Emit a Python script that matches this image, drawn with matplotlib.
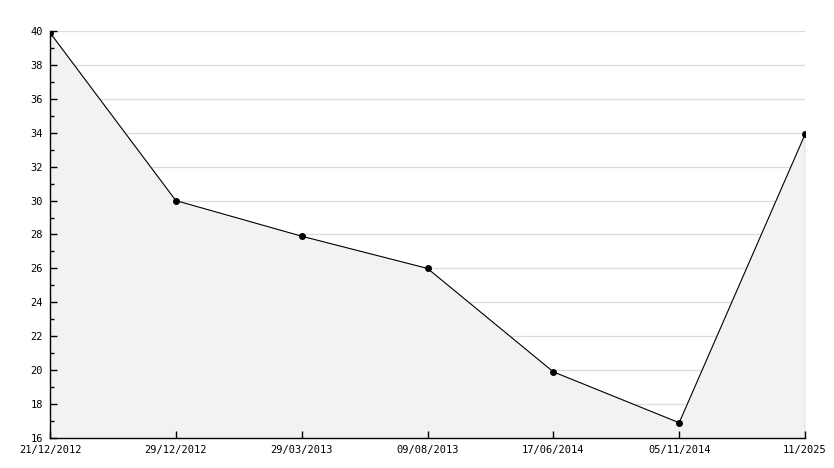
import matplotlib.pyplot as plt
import numpy as np

# data
dates = ["21/12/2012", "29/12/2012", "29/03/2013", "09/08/2013",
         "17/06/2014", "05/11/2014", "11/2025"]
values = [39.9, 30.0, 27.9, 26.0, 19.9, 16.9, 33.9]

x = np.arange(len(dates))

fig = plt.figure(figsize=(8.34, 4.68), dpi=100)
ax = fig.add_axes([50 / 834, 30 / 468, 755 / 834, 407 / 468])

# grid
for v in range(18, 41, 2):
    ax.axhline(v, color="#dcdcdc", linewidth=0.9, zorder=0)

ax.fill_between(x, values, 16, color="#f2f2f2", zorder=1)
ax.plot([x[-1], x[-1]], [16, values[-1]], color="#333333", linewidth=0.8, zorder=2)
ax.plot(x, values, color="black", linewidth=0.8, marker="o",
        markersize=4, zorder=3)

ax.set_xlim(0, len(dates) - 1)
ax.set_ylim(16, 40)

ax.set_xticks(x)
ax.set_xticklabels(dates)
ax.set_yticks(range(16, 41, 2))
ax.set_yticks(range(17, 41, 2), minor=True)

for lab in ax.get_xticklabels() + ax.get_yticklabels():
    lab.set_fontfamily("DejaVu Sans Mono")
    lab.set_fontsize(7.5)

ax.tick_params(axis="both", which="major", direction="in", length=5,
               width=1, color="black")
ax.tick_params(axis="x", which="major", pad=5)
ax.tick_params(axis="y", which="major", pad=5)
ax.tick_params(axis="y", which="minor", direction="in", length=3,
               width=1, color="black")

ax.spines["top"].set_visible(False)
ax.spines["right"].set_visible(False)
ax.spines["left"].set_linewidth(1)
ax.spines["bottom"].set_linewidth(1)

fig.savefig("out.png", dpi=100)
